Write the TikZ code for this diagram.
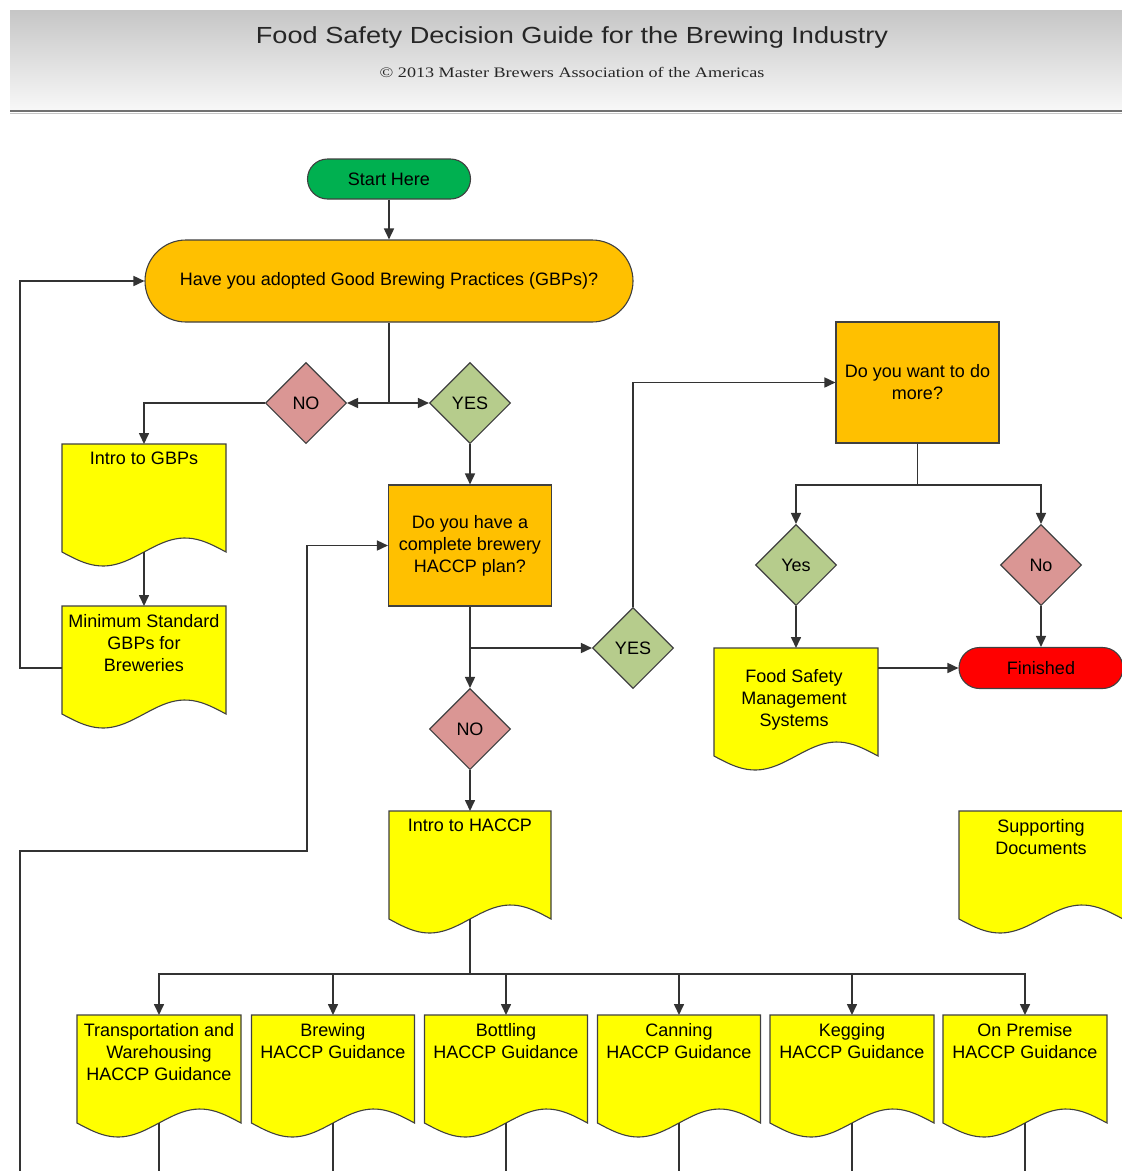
\documentclass[tikz,border=0pt]{standalone}
\usepackage{fontspec}
\usepackage{graphicx}
\setmainfont{Liberation Sans}
\newfontfamily\hdserif{Liberation Serif}
\usetikzlibrary{shapes.geometric,arrows.meta,calc}
\definecolor{orng}{HTML}{FFC000}
\definecolor{yell}{HTML}{FFFF00}
\definecolor{startg}{HTML}{00B050}
\definecolor{redc}{HTML}{FF0000}
\definecolor{pinkd}{HTML}{DA9694}
\definecolor{greend}{HTML}{B6CC8C}
\definecolor{linec}{HTML}{333333}
\definecolor{edgec}{HTML}{404040}
\definecolor{hdtop}{HTML}{C6C6C6}
\definecolor{hdbot}{HTML}{F8F8F8}
\definecolor{hdline}{HTML}{707070}
\tikzset{
  conn/.style={draw=linec, line width=1.6pt},
  arr/.style={conn, -{Triangle[length=11pt,width=10pt]}},
  shapeline/.style={draw=edgec, line width=1.1pt},
  startnode/.style={shapeline, rectangle, rounded corners=20pt, minimum width=163pt, minimum height=40pt, fill=startg},
  gbpnode/.style={shapeline, rectangle, rounded corners=41pt, minimum width=488pt, minimum height=82pt, fill=orng},
  finnode/.style={shapeline, rectangle, rounded corners=20.5pt, minimum width=164pt, minimum height=41pt, fill=redc},
  qbox/.style={shapeline, rectangle, fill=orng, minimum width=163pt, minimum height=121pt, align=center},
  dmd/.style={shapeline, diamond, minimum width=81pt, minimum height=81pt, inner sep=0pt},
  docbox/.style={rectangle, minimum height=108pt, anchor=north, inner sep=0pt},
  doctext/.style={anchor=north, align=center, inner sep=0pt},
  docline/.style={shapeline, fill=yell},
}
\newcommand\docshape[4]{%
  \filldraw[docline] ({#2-#4/2},{#3}) -- ({#2+#4/2},{#3}) -- ({#2+#4/2},{#3+108})
    -- plot[domain=1:0,samples=40] ({#2-#4/2+\x*#4},{#3+108+14*sin(360*\x)}) -- cycle;
  \node[docbox, minimum width=#4pt] (#1) at ({#2},{#3}) {};
  \coordinate (#1-b) at ({#2},{#3+108});
}
\begin{document}
\begin{tikzpicture}[x=1pt,y=-1pt, font=\fontsize{18}{22}\selectfont]
\useasboundingbox (0,0) rectangle (1122,1171);
\fill[white] (0,0) rectangle (1122,1171);
% header
\shade[top color=hdtop, bottom color=hdbot] (10,10) rectangle (1122,110);
\draw[hdline, line width=2.2pt] (10,111) -- (1122,111);
\draw[gray!45, line width=1pt] (10,113.5) -- (1122,113.5);
\node[anchor=base, inner sep=0pt, text=black!85] (title) at (572,43)
  {\scalebox{1.165}[1]{\fontsize{23.3}{27}\selectfont Food Safety Decision Guide for the Brewing Industry}};
\node[anchor=base, inner sep=0pt, text=black!85] (subtitle) at (572,77)
  {\scalebox{1.25}[1]{\fontsize{14.5}{17}\selectfont\hdserif © 2013 Master Brewers Association of the Americas}};

% main nodes
\node[startnode] (start) at (389,179) {Start Here};
\node[gbpnode] (gbp) at (389,281) {Have you adopted Good Brewing Practices (GBPs)?};
\node[dmd, fill=pinkd] (no1) at (306,403) {NO};
\node[dmd, fill=greend] (yes1) at (470,403) {YES};
\node[qbox] (plan) at (470,545.5) {Do you have a\\complete brewery\\HACCP plan?};
\node[dmd, fill=greend] (yes2) at (633,648) {YES};
\node[dmd, fill=pinkd] (no2) at (470,729) {NO};
\node[qbox] (more) at (917.5,382.5) {Do you want to do\\more?};
\node[dmd, fill=greend] (yes3) at (796,565) {Yes};
\node[dmd, fill=pinkd] (no3) at (1041,565) {No};
\node[finnode] (fin) at (1041,668) {Finished};

% documents
\docshape{igbp}{144}{444}{164}
\node[doctext] (igbpt) at (144,452) {Intro to GBPs};
\docshape{msg}{144}{606}{164}
\node[doctext] (msgt) at (144,614) {Minimum Standard\\GBPs for\\Breweries};
\docshape{fsms}{796}{648}{164}
\node[doctext] (fsmst) at (794,669) {Food Safety\\Management\\Systems};
\docshape{ihaccp}{470}{811}{162}
\node[doctext] (ihaccpt) at (470,819) {Intro to HACCP};
\docshape{supp}{1041}{811}{164}
\node[doctext] (suppt) at (1041,819) {Supporting\\Documents};
\docshape{trans}{159}{1015}{164}
\node[doctext] (transt) at (159,1023) {Transportation and\\Warehousing\\HACCP Guidance};
\docshape{brew}{333}{1015}{163}
\node[doctext] (brewt) at (333,1023) {Brewing\\HACCP Guidance};
\docshape{bott}{506}{1015}{163}
\node[doctext] (bottt) at (506,1023) {Bottling\\HACCP Guidance};
\docshape{cann}{679}{1015}{163}
\node[doctext] (cannt) at (679,1023) {Canning\\HACCP Guidance};
\docshape{kegg}{852}{1015}{164}
\node[doctext] (keggt) at (852,1023) {Kegging\\HACCP Guidance};
\docshape{prem}{1025}{1015}{164}
\node[doctext] (premt) at (1025,1023) {On Premise\\HACCP Guidance};

% junction coordinates
\coordinate (j1) at (389,403);
\coordinate (j2) at (470,648);
\coordinate (j3) at (917.5,485);
\coordinate (j4) at (470,974);
\coordinate (lb) at (20,1171);
\coordinate (lk) at (307,851);

% connectors
\draw[arr] (start.south) -- (gbp.north);
\draw[conn] (gbp.south) -- (j1);
\draw[arr] (j1) -- (no1.east);
\draw[arr] (j1) -- (yes1.west);
\draw[arr] (no1.west) -| (igbp.north);
\draw[arr] (igbp-b) -- (msg.north);
\draw[arr] ([yshift=-8pt]msg.west) -- ++(-42,0) |- (gbp.west);
\draw[arr] (yes1.south) -- (plan.north);
\draw[arr] (plan.south) -- (no2.north);
\draw[arr] (j2) -- (yes2.west);
\draw[arr] (yes2.north) |- (more.west);
\draw[conn] (more.south) -- (j3);
\draw[arr] (j3) -| (yes3.north);
\draw[arr] (j3) -| (no3.north);
\draw[arr] (yes3.south) -- (fsms.north);
\draw[arr] (no3.south) -- (fin.north);
\draw[arr] (fin.west -| fsms.east) -- (fin.west);
\draw[arr] (no2.south) -- (ihaccp.north);
\draw[conn] (ihaccp-b) -- (j4);
\draw[arr] (j4) -| (trans.north);
\draw[arr] (j4) -| (brew.north);
\draw[arr] (j4) -| (bott.north);
\draw[arr] (j4) -| (cann.north);
\draw[arr] (j4) -| (kegg.north);
\draw[arr] (j4) -| (prem.north);
\foreach \n in {trans,brew,bott,cann,kegg,prem}
  \draw[conn] (\n-b) -- (\n-b |- lb);
\draw[arr] (lb) |- (lk) |- (plan.west);
\end{tikzpicture}
\end{document}
